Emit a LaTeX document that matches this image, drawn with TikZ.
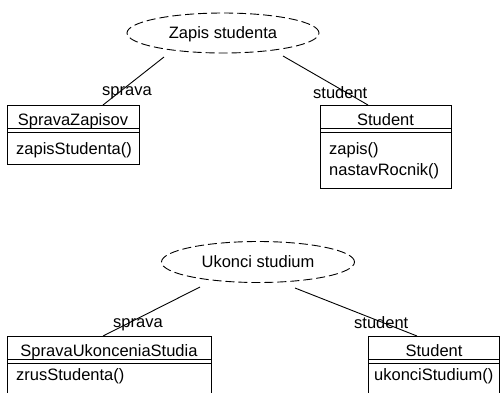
\documentclass[tikz,border=0pt]{standalone}
\usepackage{fontspec}
\setmainfont{Liberation Sans}
\usetikzlibrary{shapes.geometric}
\begin{document}
\begin{tikzpicture}[x=1pt,y=-1pt,
  every node/.style={font=\fontsize{16.5}{19}\selectfont, inner sep=0pt},
  txt/.style={anchor=base},
  optxt/.style={anchor=base west},
  usecase/.style={draw, ellipse, dashed, dash pattern=on 9pt off 4pt, line width=0.9pt, text depth=0pt},
  umlbox/.style={draw, rectangle, line width=0.9pt, anchor=north west},
  conn/.style={line width=0.9pt},
  sep/.style={line width=0.9pt}]
\useasboundingbox (0,0) rectangle (500,392);
\clip (0,0) rectangle (500,392);

% ---------- top diagram ----------
\node[usecase, minimum width=192pt, minimum height=40pt] (u1) at (223,33) {Zapis studenta};

\node[umlbox, minimum width=132pt, minimum height=59pt] (b1) at (7,105) {};
\draw[sep] ([yshift=-23.5pt]b1.north west) -- ([yshift=-23.5pt]b1.north east);
\draw[sep] ([yshift=-27pt]b1.north west) -- ([yshift=-27pt]b1.north east);
\node[txt] (b1h) at (73,125) {SpravaZapisov};
\node[optxt] (b1o) at (16,154) {zapisStudenta()};

\node[umlbox, minimum width=131pt, minimum height=83pt] (b2) at (320,105) {};
\draw[sep] ([yshift=-23.5pt]b2.north west) -- ([yshift=-23.5pt]b2.north east);
\draw[sep] ([yshift=-27pt]b2.north west) -- ([yshift=-27pt]b2.north east);
\node[txt] (b2h) at (385.5,125) {Student};
\node[optxt] (b2o1) at (329,154) {zapis()};
\node[optxt] (b2o2) at (329,175) {nastavRocnik()};

\coordinate (s1) at (164,57);
\coordinate (e1) at (103,105);
\draw[conn] (s1) -- (e1);
\node[anchor=base west] (l1) at (102,95) {sprava};

\coordinate (s2) at (283,56);
\coordinate (e2) at (368,105);
\draw[conn] (s2) -- (e2);
\node[anchor=base west] (l2) at (313,98) {student};

% ---------- bottom diagram ----------
\node[usecase, minimum width=193pt, minimum height=41pt] (u2) at (258,262) {Ukonci studium};

\node[umlbox, minimum width=204pt, minimum height=70pt] (b3) at (7,336) {};
\draw[sep] ([yshift=-23.5pt]b3.north west) -- ([yshift=-23.5pt]b3.north east);
\draw[sep] ([yshift=-27pt]b3.north west) -- ([yshift=-27pt]b3.north east);
\node[txt] (b3h) at (109,356) {SpravaUkonceniaStudia};
\node[optxt] (b3o) at (16,380) {zrusStudenta()};

\node[umlbox, minimum width=130.5pt, minimum height=70pt] (b4) at (368,336) {};
\draw[sep] ([yshift=-23.5pt]b4.north west) -- ([yshift=-23.5pt]b4.north east);
\draw[sep] ([yshift=-27pt]b4.north west) -- ([yshift=-27pt]b4.north east);
\node[txt] (b4h) at (434,356) {Student};
\node[optxt] (b4o) at (374,380) {ukonciStudium()};

\coordinate (s3) at (200,287);
\coordinate (e3) at (103,336);
\draw[conn] (s3) -- (e3);
\node[anchor=base west] (l3) at (113,327) {sprava};

\coordinate (s4) at (295,288);
\coordinate (e4) at (417,336);
\draw[conn] (s4) -- (e4);
\node[anchor=base west] (l4) at (354,328) {student};
\end{tikzpicture}
\end{document}
